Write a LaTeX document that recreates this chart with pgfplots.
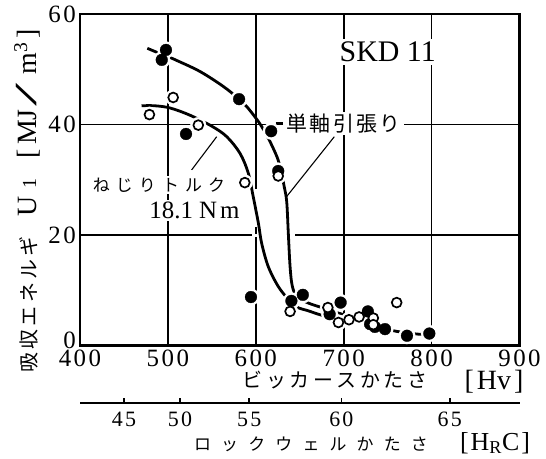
\documentclass[border=0pt]{standalone}
\usepackage{fontspec}
\setmainfont{Liberation Serif}
\newfontfamily\jp{Noto Sans CJK JP}
\newfontfamily\numls[LetterSpace=10]{Liberation Serif}
\usepackage{pgfplots}
\pgfplotsset{compat=1.18}
\newcommand\fs[1]{\fontsize{#1}{#1}\selectfont}
\begin{document}
\begin{tikzpicture}
\useasboundingbox (0,0) rectangle (546bp,459bp);
\begin{axis}[
  at={(80bp,113.3bp)}, anchor=south west,
  scale only axis, width=439.5bp, height=331.7bp,
  xmin=400, xmax=900, ymin=0, ymax=60,
  xtick={400,500,600,700,800,900}, ytick={20,40,60},
  extra y ticks={0},
  extra y tick style={grid=none, yticklabel style={yshift=5bp}},
  grid=major, major grid style={black, line width=1.6bp},
  major tick length=0pt,
  axis line style={line width=2.6bp},
  /pgf/number format/assume math mode=true,
  tick label style={font=\fs{25}\numls, inner sep=0pt},
  xticklabel style={yshift=-4.5bp},
  yticklabel style={xshift=-4bp},
  clip=false,
]
% gaps in grid lines (print artefacts)
\draw[white, line width=3bp] (axis cs:596,20) -- (axis cs:645,20);
\draw[white, line width=3bp] (axis cs:600,21.5) -- (axis cs:600,28.3);
% curves
\addplot[black, line width=2.8bp, smooth, tension=0.55] coordinates {
(476.6,53.8)(487,53.1)(497,52.5)(510,51.6)(536.5,49.6)(563,46.9)(581,44.6)(590,43.2)(604,40.3)(614,37.6)(624,34.2)(628,32.0)(632.4,28.7)(635.2,26.0)(637,20.3)(639,14.3)(641.5,10.8)(647,8.8)(660,7.7)(677,6.8)(700,5.6)(725,4.4)(745,3.2)(760,2.6)(784,2.1)(800,2.0)};
\addplot[black, line width=2.8bp, smooth, tension=0.55] coordinates {
(470,43.4)(485,43.4)(502.4,43.0)(525,41.7)(550,39.7)(567,37.8)(582,34.8)(591.5,31.2)(597,27)(602.9,22.2)(606.7,18.5)(614.2,14.3)(625.6,10.7)(637,8.4)(646.5,7.0)(660,6.3)(673,5.6)(690,4.9)};
% leader lines
\draw[line width=1.1bp] (axis cs:689.3,37.8) -- (axis cs:635.2,27.0);
\draw[line width=1.1bp] (axis cs:555.5,37.8) -- (axis cs:527,31.8);
% halos
\addplot[only marks, mark=*, mark size=8.3bp, mark options={white, draw=white}] coordinates {
(497.8,53.5)(493,51.7)(581,44.6)(617.5,38.8)(520.6,38.3)(625.5,31.6)(594.5,8.8)(640.5,8.1)(653.5,9.2)(684,5.7)(696.5,7.8)(727.5,6.2)(730,3.9)(735.5,3.4)(747,3.0)(772,1.8)(797.4,2.2)};
\addplot[only marks, mark=*, mark size=7.8bp, mark options={white, draw=white}] coordinates {
(506,44.9)(479,41.8)(534.6,39.9)(587.5,29.5)(625.5,30.7)(639,6.2)(682,6.9)(694,4.2)(706,4.7)(717.5,5.2)(733.7,5.0)(733.7,3.8)(760.3,7.8)};
% filled marks
\addplot[only marks, mark=*, mark size=5.9bp, mark options={fill=black, draw=black, line width=0.3bp}] coordinates {
(497.8,53.5)(493,51.7)(581,44.6)(617.5,38.8)(520.6,38.3)(625.5,31.6)(594.5,8.8)(640.5,8.1)(653.5,9.2)(684,5.7)(696.5,7.8)(727.5,6.2)(730,3.9)(735.5,3.4)(747,3.0)(772,1.8)(797.4,2.2)};
% open marks
\addplot[only marks, mark=*, mark size=4.9bp, mark options={fill=white, draw=black, line width=1.7bp}] coordinates {
(506,44.9)(479,41.8)(534.6,39.9)(587.5,29.5)(625.5,30.7)(639,6.2)(682,6.9)(694,4.2)(706,4.7)(717.5,5.2)(733.7,5.0)(733.7,3.8)(760.3,7.8)};
\end{axis}
% Rockwell scale
\begin{axis}[
  at={(80bp,55.7bp)}, anchor=south west,
  scale only axis, width=439.5bp, height=10bp,
  xmin=400, xmax=900, ymin=0, ymax=1,
  axis x line=bottom, axis y line=none,
  axis line style={-, line width=2bp},
  xtick={450,513.8,592.6,697.3,820.6}, xticklabels={45,50,55,60,65},
  tick align=inside, major tick length=5bp,
  major tick style={line width=1.6bp, black},
  ytick=\empty,
  tick label style={font=\fs{22}\numls, inner sep=0pt},
  xticklabel style={yshift=-8.4bp},
]
\end{axis}
% texts
\node[fill=white, inner sep=3bp, font=\fs{30}] at (387.7bp,407.3bp) {SKD 11};
\node[fill=white, inner xsep=3bp, inner ysep=2bp, anchor=west, font=\jp\fs{21}\addfontfeature{LetterSpace=12}] at (283bp,335.7bp) {単軸引張り\hspace{4bp}};
\draw[line width=2.2bp] (275.5bp,335.7bp) -- (282.5bp,335.7bp);
\node[fill=white, inner sep=2bp, font=\jp\fs{17}\addfontfeature{LetterSpace=36}] at (159bp,274bp) {ねじりトルク};
\node[fill=white, inner sep=2bp, anchor=base, font=\fs{25}] at (194.5bp,240.7bp) {18.1 N\hspace{3bp}m};
\node[inner sep=0pt, font=\jp\fs{20}\addfontfeature{LetterSpace=19}] at (335bp,79bp) {ビッカースかたさ};
\node[anchor=base, font=\fs{28}] at (494bp,69bp) {[\hspace{3bp}Hv\hspace{3bp}]};
\node[font=\jp\fs{17}\addfontfeature{LetterSpace=60}] at (311bp,15bp) {ロックウェルかたさ};
\node[anchor=base, inner sep=0pt, font=\fs{26}] at (495bp,9bp) {[\hspace{2bp}H\textsubscript{R}C\hspace{2bp}]};
\node[rotate=90, anchor=base west, inner sep=0pt, font=\fs{28}] at (36bp,86bp) {{\jp\fs{20}\addfontfeature{LetterSpace=17}吸収エネルギ}\hspace{20bp}U\hspace{8bp}{\fs{20}1}\hspace{20bp}[\hspace{4bp}MJ\hspace{3bp}\scalebox{3}[1.1]{/}\hspace{9bp}m\textsuperscript{3}\hspace{4bp}]};
\end{tikzpicture}
\end{document}
